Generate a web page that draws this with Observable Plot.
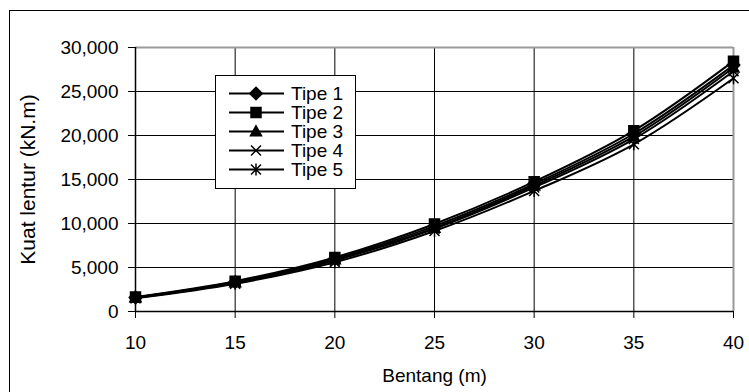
<!DOCTYPE html>
<html>
<head>
<meta charset="utf-8">
<script src="https://cdn.jsdelivr.net/npm/d3@7"></script>
<script src="https://cdn.jsdelivr.net/npm/@observablehq/plot@0.6"></script>
<style>
  html, body { margin: 0; padding: 0; background: #fff; }
  #wrap { position: relative; width: 749px; height: 392px; overflow: hidden; font-family: "Liberation Sans", Arial, sans-serif; }
  #frame { position: absolute; left: 9px; top: 10px; width: 760px; height: 400px; border-left: 1.5px solid #000; border-top: 1.5px solid #000; box-sizing: border-box; pointer-events: none; }
  #legend { position: absolute; left: 215px; top: 75px; width: 141px; height: 114px; border: 1px solid #000; background: #fff; box-sizing: border-box; }
  .row { position: absolute; left: 0; height: 19px; display: flex; align-items: center; }
  .row span { font-size: 19px; margin-left: 6px; line-height: 19px; }
</style>
</head>
<body>
<div id="wrap"><div id="frame"></div></div>
<script>
// Data
const bentang = [10, 15, 20, 25, 30, 35, 40];
const seriesNames = ["Tipe 1", "Tipe 2", "Tipe 3", "Tipe 4", "Tipe 5"];
const tipe1 = [1600, 3350, 6000, 9700, 14500, 20200, 28000];
const tipe2 = [1650, 3450, 6150, 9950, 14750, 20550, 28450];
const tipe3 = [1600, 3300, 5900, 9500, 14300, 19900, 27700];
const tipe4 = [1550, 3250, 5800, 9400, 14100, 19600, 27300];
const tipe5 = [1500, 3150, 5600, 9150, 13700, 19000, 26500];
const xTicks = [10, 15, 20, 25, 30, 35, 40];
const yTicks = [0, 5000, 10000, 15000, 20000, 25000, 30000];

const seriesValues = [tipe1, tipe2, tipe3, tipe4, tipe5];
const rows = [];
seriesNames.forEach((s, i) => bentang.forEach((b, j) => rows.push({series: s, bentang: b, value: seriesValues[i][j]})));

// Marker symbols
const rad = size => Math.sqrt(size / Math.PI);
const symDiamond = {draw(c, size) { const h = rad(size) * 1.25; c.moveTo(0, -h); c.lineTo(h, 0); c.lineTo(0, h); c.lineTo(-h, 0); c.closePath(); }};
const symSquare = {draw(c, size) { const h = rad(size); c.moveTo(-h, -h); c.lineTo(h, -h); c.lineTo(h, h); c.lineTo(-h, h); c.closePath(); }};
const symTriangle = {draw(c, size) { const h = rad(size); c.moveTo(0, -h * 1.15); c.lineTo(h * 1.1, h * 0.85); c.lineTo(-h * 1.1, h * 0.85); c.closePath(); }};
const symTimes = {draw(c, size) { const h = rad(size); c.moveTo(-h, -h); c.lineTo(h, h); c.moveTo(h, -h); c.lineTo(-h, h); }};
const symStar = {draw(c, size) { const h = rad(size); c.moveTo(-h, -h); c.lineTo(h, h); c.moveTo(h, -h); c.lineTo(-h, h); c.moveTo(0, -h * 1.2); c.lineTo(0, h * 1.2); }};
const symbols = [symDiamond, symSquare, symTriangle, symTimes, symStar];

const chart = Plot.plot({
  width: 749, height: 392,
  marginLeft: 135, marginRight: 16, marginTop: 47, marginBottom: 81,
  style: {fontFamily: "'Liberation Sans', Arial, sans-serif", fontSize: "19px", color: "black", background: "transparent"},
  x: {domain: [10, 40]},
  y: {domain: [0, 30000]},
  symbol: {domain: seriesNames, range: symbols},
  marks: [
    Plot.gridX(xTicks, {stroke: "black", strokeOpacity: 1}),
    Plot.gridY(yTicks, {stroke: "black", strokeOpacity: 1}),
    Plot.ruleY([30000], {stroke: "#999", strokeWidth: 2}),
    Plot.ruleX([40], {stroke: "#999", strokeWidth: 2}),
    Plot.ruleX([10], {stroke: "black", strokeWidth: 1.5}),
    Plot.ruleY([0], {stroke: "black", strokeWidth: 1.5}),
    Plot.axisX(xTicks, {tickSize: 7, tickPadding: 17, label: "Bentang (m)", labelAnchor: "center", labelArrow: "none", labelOffset: 70}),
    Plot.axisY(yTicks, {tickSize: 7, tickPadding: 10, tickFormat: d3.format(","), label: null}),
    Plot.axisY([], {label: "Kuat lentur (kN.m)", labelAnchor: "center", labelArrow: "none", labelOffset: 115, fontSize: 21, tickSize: 0}),
    Plot.line(rows, {x: "bentang", y: "value", z: "series", curve: "catmull-rom", stroke: "black", strokeWidth: 2}),
    Plot.dot(rows, {x: "bentang", y: "value", symbol: "series", fill: "black", stroke: "black", strokeWidth: 1.5, r: 5})
  ]
});
const wrap = document.getElementById("wrap");
wrap.insertBefore(chart, wrap.firstChild);
chart.style.position = "absolute";
chart.style.left = "0px";
chart.style.top = "0px";

// Legend
const legend = d3.select(wrap).append("div").attr("id", "legend");
seriesNames.forEach((name, i) => {
  const row = legend.append("div").attr("class", "row").style("top", (8 + i * 19) + "px").style("left", "13px");
  const svg = row.append("svg").attr("width", 56).attr("height", 19);
  svg.append("line").attr("x1", 0).attr("x2", 55).attr("y1", 9.5).attr("y2", 9.5).attr("stroke", "black").attr("stroke-width", 2);
  const p = d3.path();
  symbols[i].draw(p, Math.PI * 25);
  svg.append("path").attr("d", p.toString()).attr("transform", "translate(27,9.5)").attr("fill", "black").attr("stroke", "black").attr("stroke-width", 1.5);
  row.append("span").text(name);
});
</script>
</body>
</html>
